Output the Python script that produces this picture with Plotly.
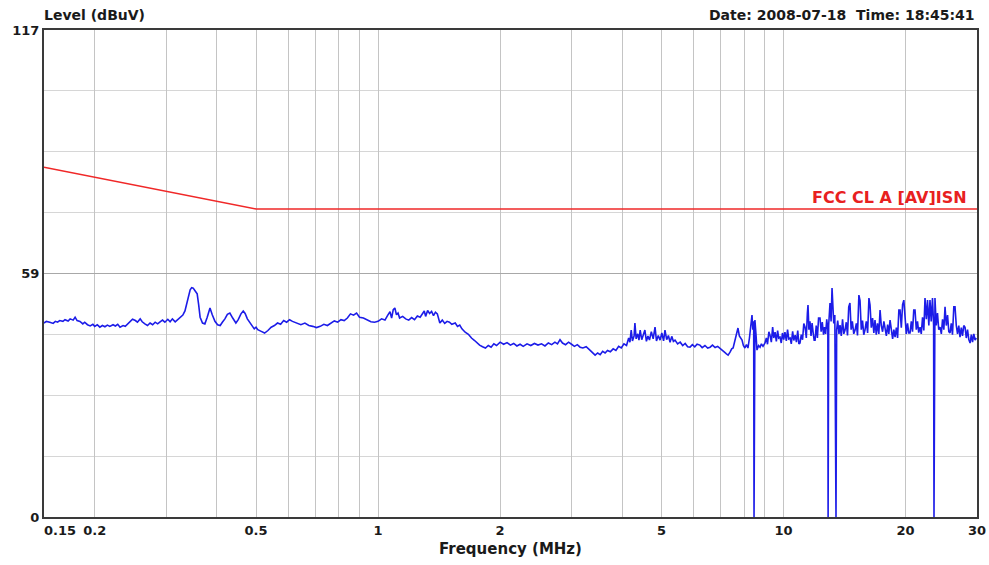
import numpy as np
import plotly.graph_objects as go

# ---------------- data ----------------
# measured trace, read from the picture (frequency in MHz, level in dBuV)
freq_a = [0.150, 0.152, 0.155, 0.158, 0.160, 0.162, 0.164, 0.167, 0.169, 0.172, 0.174, 0.177, 0.179, 0.181,
          0.184, 0.187, 0.189, 0.192, 0.195, 0.198, 0.200, 0.203, 0.206, 0.209, 0.212, 0.215, 0.218, 0.222,
          0.225, 0.228, 0.231, 0.235, 0.238, 0.241, 0.244, 0.248, 0.252, 0.255, 0.259, 0.262, 0.266, 0.270,
          0.274, 0.278, 0.282, 0.286, 0.290, 0.294, 0.298, 0.303, 0.307, 0.311, 0.316, 0.320, 0.325, 0.330,
          0.334, 0.339, 0.344, 0.347, 0.350, 0.354, 0.358, 0.361, 0.364, 0.369, 0.374, 0.379, 0.385, 0.390,
          0.396, 0.402, 0.408, 0.413, 0.419, 0.425, 0.431, 0.438, 0.446, 0.452, 0.459, 0.465, 0.470, 0.476,
          0.483, 0.490, 0.495, 0.500]
level_a = [46.6, 47.0, 46.8, 46.5, 47.0, 46.8, 47.2, 47.0, 47.4, 47.1, 47.6, 47.3, 48.0, 47.2,
           47.0, 46.4, 46.8, 46.2, 45.9, 46.3, 45.8, 46.2, 45.6, 46.0, 45.7, 46.1, 45.8, 46.2,
           45.9, 46.3, 45.6, 46.0, 45.8, 46.3, 46.9, 47.5, 47.2, 46.8, 47.6, 46.9, 46.4, 46.0,
           46.6, 46.2, 46.8, 46.4, 46.9, 47.3, 46.8, 47.5, 46.9, 47.6, 46.9, 47.4, 47.8, 48.5,
           49.5, 52.0, 54.6, 55.1, 55.0, 54.3, 53.6, 51.0, 48.0, 46.6, 46.4, 48.0, 50.2, 48.6,
           47.0, 46.2, 46.0, 46.8, 47.6, 48.7, 49.0, 47.8, 46.6, 47.4, 48.8, 49.5, 48.9, 47.6,
           46.6, 45.9, 45.2, 45.6]

freq_b = [0.505, 0.515, 0.525, 0.535, 0.545, 0.555, 0.565, 0.575, 0.585, 0.595, 0.605, 0.615, 0.63, 0.645,
          0.66, 0.675, 0.69, 0.705, 0.72, 0.735, 0.75, 0.765, 0.78, 0.795, 0.81, 0.825, 0.84, 0.855,
          0.87, 0.885, 0.90, 0.92, 0.94, 0.96, 0.98]
level_b = [45.0, 44.6, 44.2, 44.8, 45.6, 46.0, 46.6, 46.3, 47.2, 46.8, 47.4, 47.0, 46.6, 46.2,
           46.6, 46.0, 45.8, 45.5, 45.8, 46.3, 46.0, 46.6, 47.1, 46.8, 47.4, 47.2, 47.8, 48.8,
           48.5, 49.0, 48.0, 47.8, 47.3, 46.9, 46.8]

freq_c = [1.00, 1.02, 1.04, 1.055, 1.07, 1.08, 1.09, 1.10, 1.11, 1.12, 1.13, 1.15, 1.17, 1.19, 1.21, 1.23,
          1.25, 1.27, 1.29, 1.30, 1.31, 1.325, 1.34, 1.355, 1.37, 1.385, 1.40, 1.41, 1.42, 1.44, 1.46,
          1.48, 1.50, 1.52, 1.55, 1.57, 1.59, 1.61, 1.64, 1.67, 1.70, 1.73, 1.76, 1.78, 1.81, 1.84,
          1.87, 1.90, 1.93, 1.96, 2.00]
level_c = [47.0, 47.6, 47.3, 48.4, 49.3, 47.8, 49.8, 50.2, 48.6, 49.0, 47.8, 48.2, 47.6, 47.3, 47.9, 47.4,
           48.3, 48.0, 49.0, 49.5, 48.2, 49.6, 48.9, 49.4, 48.4, 49.2, 48.8, 47.5, 46.6, 47.3, 46.5,
           47.0, 46.8, 46.3, 46.6, 45.8, 46.1, 45.2, 44.4, 43.9, 43.0, 42.4, 41.7, 41.3, 40.9, 40.6,
           41.2, 40.8, 41.6, 41.2, 42.0]

freq_d = [2.04, 2.08, 2.12, 2.16, 2.20, 2.24, 2.28, 2.33, 2.38, 2.43, 2.48, 2.53, 2.58, 2.63, 2.68, 2.73,
          2.77, 2.81, 2.85, 2.90, 2.95, 3.00, 3.05, 3.10, 3.15, 3.20, 3.26, 3.33, 3.38, 3.43, 3.48, 3.53,
          3.58, 3.63, 3.68, 3.74, 3.80, 3.86, 3.92, 3.98, 4.04, 4.10, 4.15, 4.18, 4.21, 4.24, 4.28, 4.30,
          4.33, 4.37, 4.40, 4.43, 4.47, 4.51, 4.55, 4.59, 4.63, 4.67, 4.72, 4.77, 4.82, 4.86, 4.91, 4.96,
          5.01, 5.06, 5.10, 5.15, 5.20, 5.25, 5.30, 5.35, 5.40]
level_d = [41.5, 41.9, 41.3, 41.7, 41.1, 41.5, 41.0, 41.6, 41.2, 41.7, 41.3, 41.6, 41.1, 41.8, 41.4, 42.0,
           41.6, 42.6, 41.8, 41.4, 42.0, 41.5, 41.0, 41.4, 40.8, 40.6, 40.9, 40.1, 39.6, 38.9, 39.4, 39.0,
           39.8, 39.4, 40.0, 39.7, 40.4, 40.0, 41.0, 40.6, 41.6, 41.2, 43.0, 42.0, 44.9, 42.3, 43.5, 46.6,
           42.8, 44.0, 42.5, 44.9, 42.6, 43.8, 44.9, 42.2, 43.5, 42.5, 44.5, 42.8, 45.6, 42.3, 43.6, 42.5,
           44.2, 42.3, 44.9, 42.6, 43.6, 42.0, 43.4, 42.2, 42.5]

freq_e = [5.48, 5.56, 5.64, 5.72, 5.80, 5.88, 5.96, 6.04, 6.12, 6.22, 6.30, 6.40, 6.50, 6.59, 6.68, 6.78,
          6.88, 6.97, 7.06, 7.15, 7.23, 7.30, 7.38, 7.45, 7.51, 7.58, 7.65, 7.72, 7.78, 7.84, 7.90, 7.96,
          8.03, 8.10, 8.17, 8.24, 8.30, 8.36, 8.40, 8.44, 8.457, 8.47, 8.50, 8.55, 8.60, 8.68, 8.75, 8.82,
          8.90, 9.00]
level_e = [41.6, 42.0, 41.2, 41.7, 40.9, 40.8, 41.4, 40.9, 41.5, 41.3, 40.7, 41.2, 40.6, 40.8, 41.3, 40.7,
           41.0, 40.6, 40.2, 39.6, 39.2, 38.9, 39.6, 40.4, 40.6, 42.0, 44.0, 45.4, 43.5, 42.8, 42.5, 41.2,
           40.6, 41.4, 40.6, 43.0, 46.0, 48.5, 45.0, 47.0, 0.0, 46.5, 47.3, 44.0, 40.1, 41.2, 40.8, 41.6,
           41.0, 41.8]

freq_f = [9.07, 9.13, 9.20, 9.26, 9.33, 9.40, 9.46, 9.53, 9.60, 9.67, 9.73, 9.80, 9.87, 9.94, 10.01, 10.08,
          10.16, 10.23, 10.30, 10.38, 10.45, 10.53, 10.60, 10.68, 10.76, 10.84, 10.91, 10.98, 11.06, 11.14,
          11.22, 11.30, 11.38, 11.45, 11.49, 11.55, 11.62, 11.69, 11.76, 11.84, 11.90, 11.96, 12.04, 12.12,
          12.20, 12.30, 12.38, 12.46, 12.55, 12.62, 12.70, 12.78, 12.86, 12.88, 12.92, 13.02, 13.10, 13.17,
          13.22, 13.30, 13.38, 13.47, 13.52, 13.60, 13.70, 13.78, 13.88, 13.98, 14.08, 14.18, 14.28, 14.38,
          14.48, 14.58, 14.68, 14.78, 14.90, 15.01, 15.12, 15.22, 15.34, 15.44, 15.55, 15.66, 15.77, 15.88,
          16.00, 16.12, 16.24, 16.34, 16.46, 16.58, 16.70, 16.81, 16.93, 17.05, 17.18, 17.30, 17.42, 17.55,
          17.68, 17.80, 17.93, 18.06, 18.18, 18.31, 18.44, 18.58, 18.71, 18.84, 18.98, 19.11, 19.25, 19.38,
          19.52, 19.66, 19.80, 19.94, 20.08, 20.22, 20.36, 20.51, 20.66, 20.80, 20.95, 21.10, 21.25, 21.40,
          21.55, 21.71, 21.86, 22.02, 22.18, 22.33, 22.50, 22.65, 22.82, 22.97, 23.13, 23.30, 23.45, 23.50,
          23.56, 23.63, 23.80, 23.97, 24.14, 24.32, 24.50, 24.67, 24.85, 25.02, 25.20, 25.38, 25.56, 25.74,
          25.92, 26.10, 26.30, 26.48, 26.67, 26.86, 27.05, 27.24, 27.44, 27.63, 27.83, 28.03, 28.23, 28.43,
          28.64, 28.84, 29.05, 29.25, 29.46, 29.67, 29.88]
level_f = [43.0, 41.5, 44.5, 43.7, 42.0, 45.6, 43.0, 44.4, 42.2, 44.8, 43.0, 43.2, 41.8, 44.2, 42.6, 44.4,
           42.3, 45.0, 42.8, 43.0, 41.6, 44.6, 42.4, 43.7, 42.0, 44.8, 41.6, 41.8, 43.8, 42.6,
           46.5, 45.6, 43.0, 49.0, 50.9, 45.0, 47.0, 43.5, 46.6, 44.0, 42.5, 42.5, 46.0, 43.0,
           47.8, 47.8, 44.5, 46.8, 43.8, 45.6, 44.0, 47.5, 45.0, 0.0, 46.0, 51.4, 47.0, 55.0,
           50.0, 46.5, 48.5, 0.0, 45.0, 47.2, 44.0, 46.1, 43.5, 47.5, 44.0, 44.9, 46.8, 43.6,
           50.5, 51.4, 45.0, 47.0, 44.0, 44.9, 46.5, 43.6, 53.3, 52.0, 45.0, 47.2, 43.8, 44.9,
           47.0, 44.2, 52.6, 51.0, 45.5, 47.8, 44.2, 47.3, 43.8, 46.5, 44.0, 49.7, 46.0, 44.5,
           47.0, 45.6, 43.5, 46.2, 44.0, 47.3, 44.8, 42.8, 45.0, 43.2, 45.5, 43.0, 49.7, 49.7,
           45.5, 51.0, 52.1, 47.0, 44.0, 46.5, 44.2, 44.2, 47.0, 44.5, 49.7, 49.7, 45.0, 47.0,
           44.3, 45.6, 44.0, 48.0, 44.8, 52.6, 47.5, 52.1, 46.0, 52.1, 47.0, 52.6, 46.0, 0.0,
           48.0, 52.6, 46.0, 49.0, 45.0, 45.6, 44.0, 47.5, 45.0, 50.5, 46.0, 48.5, 44.5, 44.2,
           46.5, 43.8, 50.5, 50.5, 46.0, 44.0, 46.0, 43.2, 45.5, 43.5, 46.0, 45.6, 43.0, 45.0,
           42.6, 41.8, 43.8, 42.0, 44.0, 42.5, 43.0]

# limit line: FCC class A average (ISN)
limit_freq = [0.15, 0.5, 30.0]
limit_level = [84.0, 74.0, 74.0]

# axes
x_grid_vals = [0.2, 0.3, 0.4, 0.5, 0.6, 0.7, 0.8, 0.9, 1, 2, 3, 4, 5, 6, 7, 8, 9, 10, 20, 30]
x_grid_text = ["0.2", "", "", "0.5", "", "", "", "", "1", "2", "", "", "5", "", "", "", "", "10", "20", "30"]
y_tick_vals = [0, 58.5, 117]
y_tick_text = ["0", "59", "117"]
y_minor_vals = [14.625, 29.25, 43.875, 73.125, 87.75, 102.375]

freq = freq_a + freq_b + freq_c + freq_d + freq_e + freq_f
level = level_a + level_b + level_c + level_d + level_e + level_f

FONT = "DejaVu Sans"
TXT = "#1a1a1a"

fig = go.Figure()
fig.add_trace(go.Scatter(x=limit_freq, y=limit_level, mode="lines",
                         line=dict(color="#f02828", width=1.5), hoverinfo="skip", showlegend=False))
fig.add_trace(go.Scatter(x=freq, y=level, mode="lines",
                         line=dict(color="#1c1ce8", width=1.6), showlegend=False))

fig.update_layout(
    width=989, height=565,
    margin=dict(l=44, r=12, t=30, b=48, autoexpand=False),
    paper_bgcolor="white", plot_bgcolor="white",
    font=dict(family=FONT, size=13, color=TXT, weight="bold"),
    xaxis=dict(
        type="log", range=[np.log10(0.15), np.log10(30)], automargin=False,
        tickmode="array", tickvals=x_grid_vals, ticktext=x_grid_text,
        showgrid=True, gridcolor="#c4c4c4", gridwidth=1,
        showline=True, linecolor="#3a3a3a", linewidth=2, mirror=True,
        ticks="", zeroline=False,
        tickfont=dict(family=FONT, size=13, color=TXT, weight="bold"),
        title=dict(text="Frequency (MHz)", standoff=7,
                   font=dict(family=FONT, size=15, color=TXT, weight="bold")),
    ),
    yaxis=dict(
        range=[0, 117], tickmode="array", tickvals=y_tick_vals, ticktext=y_tick_text, automargin=False,
        showgrid=True, gridcolor="#a8a8a8", gridwidth=1,
        minor=dict(tickmode="array", tickvals=y_minor_vals, showgrid=True, gridcolor="#d6d6d6", gridwidth=1),
        showline=True, linecolor="#3a3a3a", linewidth=2, mirror=True,
        ticks="", zeroline=False,
        tickfont=dict(family=FONT, size=13, color=TXT, weight="bold"),
    ),
    annotations=[
        dict(text="Level (dBuV)", xref="paper", yref="paper", x=0, y=1, xanchor="left", yanchor="bottom",
             xshift=-2, yshift=5, showarrow=False, font=dict(family=FONT, size=14, color=TXT, weight="bold")),
        dict(text="Date: 2008-07-18&nbsp;&nbsp;Time: 18:45:41", xref="paper", yref="paper", x=1, y=1,
             xanchor="right", yanchor="bottom", xshift=0, yshift=5, showarrow=False,
             font=dict(family=FONT, size=14, color=TXT, weight="bold")),
        dict(text="0.15", xref="x", yref="paper", x=np.log10(0.15), y=0, xanchor="left", yanchor="top",
             xshift=-2, yshift=-4, showarrow=False, font=dict(family=FONT, size=13, color=TXT, weight="bold")),
        dict(text="FCC CL A [AV]ISN", xref="x", yref="y", x=np.log10(30), y=74, xanchor="right",
             yanchor="bottom", xshift=-8, yshift=0, showarrow=False,
             font=dict(family=FONT, size=16, color="#e82020", weight="bold")),
    ],
)

fig.write_html("out.html")
